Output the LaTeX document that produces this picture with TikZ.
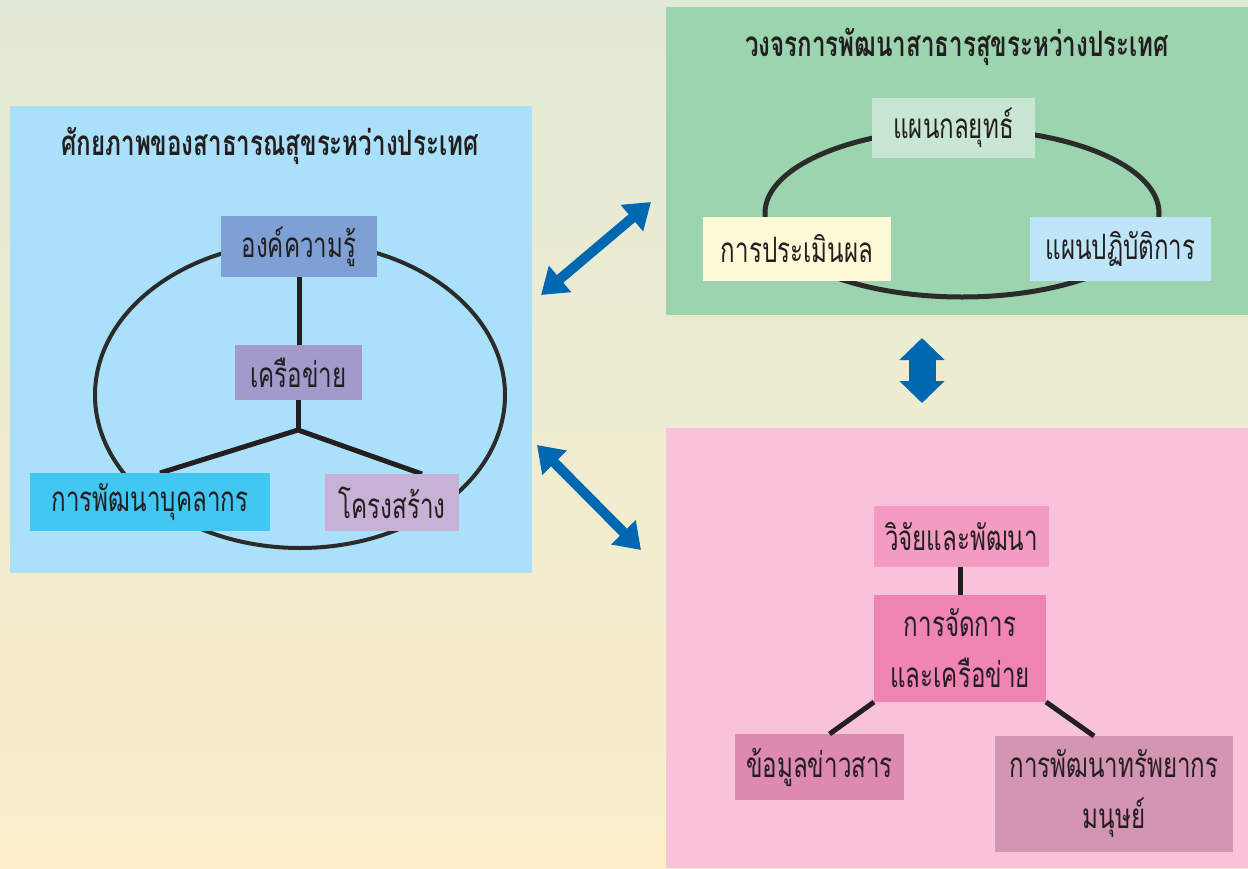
\documentclass[tikz,border=0pt]{standalone}
\usepackage{fontspec}
\setmainfont[Script=Thai]{Loma}
\newfontfamily\thaicond[Script=Thai,FakeStretch=0.69]{Loma}
\usetikzlibrary{arrows.meta,shapes.geometric,calc}
\definecolor{bgtop}{HTML}{E1EAD6}
\definecolor{bgbot}{HTML}{FCEEC9}
\definecolor{panelL}{HTML}{ABE0FA}
\definecolor{panelG}{HTML}{9CD4AF}
\definecolor{panelP}{HTML}{F8C2DA}
\definecolor{cK}{HTML}{7FA0D4}
\definecolor{cNet}{HTML}{A19ACB}
\definecolor{cPd}{HTML}{42C6F2}
\definecolor{cSt}{HTML}{C8B1D6}
\definecolor{cStrat}{HTML}{C9E6D3}
\definecolor{cEval}{HTML}{FEF9D6}
\definecolor{cAct}{HTML}{BEE5F8}
\definecolor{cRd}{HTML}{F39BC0}
\definecolor{cMg}{HTML}{F085B3}
\definecolor{cInfo}{HTML}{DE8AB0}
\definecolor{cHr}{HTML}{D495B2}
\definecolor{ink}{HTML}{231F20}
\definecolor{ringc}{HTML}{2B2B2B}
\definecolor{arrc}{HTML}{0067B1}
\begin{document}
\begin{tikzpicture}[x=1pt,y=-1pt,
  panel/.style={draw=none,inner sep=0pt,outer sep=0pt},
  ttl/.style={inner sep=0pt,text=ink,font=\thaicond\bfseries\fontsize{35}{40}\selectfont},
  lbl/.style={draw=none,inner sep=0pt,outer sep=0pt,text=ink,align=center,
     font=\thaicond\fontsize{35}{51}\selectfont},
  ring/.style={ellipse,draw=ringc,line width=4pt,fill=none,inner sep=0pt},
  link/.style={draw=ink,line width=5pt},
  dbl/.style={draw=arrc,line width=10pt,{Triangle[length=25pt,width=33pt]}-{Triangle[length=25pt,width=33pt]}},
]
\useasboundingbox (0,0) rectangle (1248,868);
\shade[top color=bgtop,bottom color=bgbot] (0,0) rectangle (1248,868);

% ---------- left panel ----------
\node[panel,fill=panelL,minimum width=522pt,minimum height=467pt] (L) at (271,339.5) {};
\node[ttl] (Lt) at (270,146) {ศักยภาพของสาธารณสุขระหว่างประเทศ};
\node[ring,minimum width=410pt,minimum height=306pt] (Lring) at (300,395) {};
\node[lbl,fill=cK,minimum width=156pt,minimum height=61pt] (k) at (299,246.5) {องค์ความรู้};
\node[lbl,fill=cNet,minimum width=127pt,minimum height=55pt] (net) at (298.5,372.5) {เครือข่าย};
\coordinate (J) at (298,430);
\coordinate (pdT) at (160,473);
\coordinate (stT) at (422,474);
\draw[link] (k.south) -- (k.south |- net.north);
\draw[link] (net.south -| J) -- (J);
\draw[link] (J) -- (pdT);
\draw[link] (J) -- (stT);
\node[lbl,fill=cPd,minimum width=240pt,minimum height=58pt] (pd) at (150,502) {การพัฒนาบุคลากร};
\node[lbl,fill=cSt,minimum width=134pt,minimum height=57pt] (st) at (392,502.5) {โครงสร้าง};

% ---------- top right panel ----------
\node[panel,fill=panelG,minimum width=582pt,minimum height=308pt] (G) at (957,161) {};
\node[ttl] (Gt) at (957,47) {วงจรการพัฒนาสาธารสุขระหว่างประเทศ};
\node[ring,line width=5pt,minimum width=394pt,minimum height=168pt] (Gring) at (962,213) {};
\node[lbl,fill=cStrat,minimum width=163pt,minimum height=60pt] (strat) at (953.5,128) {แผนกลยุทธ์};
\node[lbl,fill=cEval,minimum width=188pt,minimum height=64pt] (eval) at (797,249) {การประเมินผล};
\node[lbl,fill=cAct,minimum width=181pt,minimum height=64pt] (act) at (1120.5,249) {แผนปฏิบัติการ};

% ---------- bottom right panel ----------
\node[panel,fill=panelP,minimum width=582pt,minimum height=440pt] (P) at (957,648) {};
\node[lbl,fill=cRd,minimum width=175pt,minimum height=61pt] (rd) at (961.5,536.5) {วิจัยและพัฒนา};
\node[lbl,fill=cMg,minimum width=172pt,minimum height=107pt] (mg) at (960,648.5) {การจัดการ\\และเครือข่าย};
\node[lbl,fill=cInfo,minimum width=169pt,minimum height=66pt] (info) at (819.5,767) {ข้อมูลข่าวสาร};
\node[lbl,fill=cHr,minimum width=238pt,minimum height=116pt] (hr) at (1114,794) {การพัฒนาทรัพยากร\\มนุษย์};
\draw[link] (rd.south -| mg.north) -- (mg.north);
\draw[link] (mg.south west) -- ($(info.north)+(10,0)$);
\draw[link] (mg.south east) -- ($(hr.north)+(-20,0)$);

% ---------- arrows ----------
\coordinate (a1s) at (541,295);
\coordinate (a1e) at (651,202);
\coordinate (a2s) at (537,445);
\coordinate (a2e) at (641,550);
\coordinate (a3s) at (922,338);
\coordinate (a3e) at (922,403);
\draw[dbl] (a1s) -- (a1e);
\draw[dbl] (a2s) -- (a2e);
\draw[draw=arrc,line width=27pt,{Triangle[length=22pt,width=44pt]}-{Triangle[length=22pt,width=44pt]}] (a3s) -- (a3e);
\end{tikzpicture}
\end{document}
